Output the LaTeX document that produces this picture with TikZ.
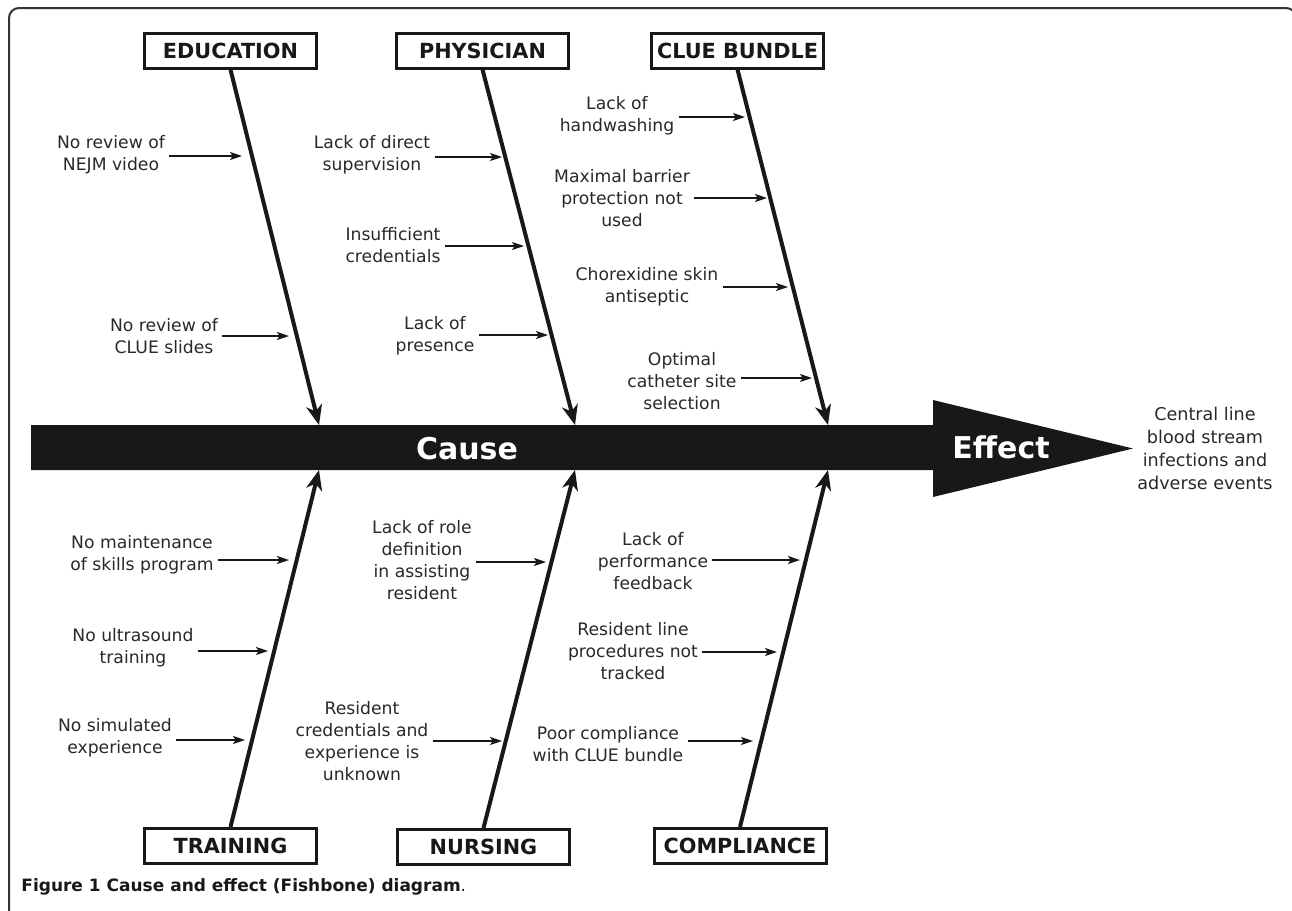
\documentclass[tikz,border=0pt]{standalone}
\usepackage{fontspec}
\setmainfont{DejaVu Sans}
\usetikzlibrary{arrows.meta}

\definecolor{ink}{RGB}{24,24,26}
\definecolor{txt}{RGB}{40,40,40}

\tikzset{
  catbox/.style={draw=ink, line width=1.5pt, minimum width=86pt, minimum height=17.5pt,
    inner sep=0pt, text=ink, font=\fontsize{10.4}{12}\selectfont\bfseries},
  bone/.style={draw=ink, line width=2pt, -{Stealth[length=10pt,width=8pt,inset=3pt]}},
  reason/.style={align=center, inner sep=2pt, text=txt, font=\fontsize{8.6}{11}\selectfont},
  twig/.style={draw=ink, line width=0.75pt, -{Stealth[length=6pt,width=4pt,inset=1.3pt]}},
  bigword/.style={text=white, font=\fontsize{15}{18}\selectfont\bfseries}
}

\begin{document}
\begin{tikzpicture}[x=0.5pt, y=-0.5pt]
\useasboundingbox (0,0) rectangle (1292,911);

% frame
\draw[line width=1pt, draw=black!80, rounded corners=5pt] (9,920) -- (9,8) -- (1296,8) -- (1296,40);

% spine
\fill[ink] (31,425) -- (933,425) -- (933,400) -- (1133,448.5) -- (933,497) -- (933,470) -- (31,470) -- cycle;
\node[bigword] (cause) at (467,449) {Cause};
\node[bigword] (effect) at (1001,447) {Effect};
\node[reason, font=\fontsize{8.8}{11.5}\selectfont] (outcome) at (1205,448)
  {Central line\\blood stream\\infections and\\adverse events};

% categories
\node[catbox] (edu) at (230.5,50.5) {EDUCATION};
\node[catbox] (phys) at (482.5,50.5) {PHYSICIAN};
\node[catbox] (clue) at (737.5,50.5) {CLUE BUNDLE};
\node[catbox] (train) at (230.5,846) {TRAINING};
\node[catbox] (nurse) at (483.5,847) {NURSING};
\node[catbox] (comp) at (740,846) {COMPLIANCE};

\coordinate (eduhead) at (319,425);
\coordinate (physhead) at (575,425);
\coordinate (cluehead) at (828,425);
\coordinate (trainhead) at (319,470);
\coordinate (nursehead) at (575,470);
\coordinate (comphead) at (828,470);

\draw[bone] (edu.south) -- (eduhead);
\draw[bone] (phys.south) -- (physhead);
\draw[bone] (clue.south) -- (cluehead);
\draw[bone] (train.north) -- (trainhead);
\draw[bone] (nurse.north) -- (nursehead);
\draw[bone] (comp.north) -- (comphead);

% education
\node[reason] (edu1) at (111,155) {No review of\\NEJM video};
\node[reason] (edu2) at (164,336) {No review of\\CLUE slides};
\coordinate (edu1end) at (242,156);
\coordinate (edu2end) at (289,336);
\draw[twig] (edu1.east |- edu1end) -- (edu1end);
\draw[twig] (edu2.east |- edu2end) -- (edu2end);

% physician
\node[reason] (phys1) at (372,155) {Lack of direct\\supervision};
\node[reason] (phys2) at (393,245) {Insufficient\\credentials};
\node[reason] (phys3) at (435,336) {Lack of\\presence};
\coordinate (phys1end) at (502,157);
\coordinate (phys2end) at (524,246);
\coordinate (phys3end) at (548,335);
\draw[twig] (phys1.east |- phys1end) -- (phys1end);
\draw[twig] (phys2.east |- phys2end) -- (phys2end);
\draw[twig] (phys3.east |- phys3end) -- (phys3end);

% clue bundle
\node[reason] (clue1) at (617,116) {Lack of\\handwashing};
\node[reason] (clue2) at (622,198) {Maximal barrier\\protection not\\used};
\node[reason] (clue3) at (647,287) {Chorexidine skin\\antiseptic};
\node[reason] (clue4) at (682,381) {Optimal\\catheter site\\selection};
\coordinate (clue1end) at (745,117);
\coordinate (clue2end) at (767,198);
\coordinate (clue3end) at (788,287);
\coordinate (clue4end) at (812,378);
\draw[twig] (clue1.east |- clue1end) -- (clue1end);
\draw[twig] (clue2.east |- clue2end) -- (clue2end);
\draw[twig] (clue3.east |- clue3end) -- (clue3end);
\draw[twig] (clue4.east |- clue4end) -- (clue4end);

% training
\node[reason] (train1) at (142,555) {No maintenance\\of skills program};
\node[reason] (train2) at (133,648) {No ultrasound\\training};
\node[reason] (train3) at (115,738) {No simulated\\experience};
\coordinate (train1end) at (289,560);
\coordinate (train2end) at (268,651);
\coordinate (train3end) at (245,740);
\draw[twig] (train1.east |- train1end) -- (train1end);
\draw[twig] (train2.east |- train2end) -- (train2end);
\draw[twig] (train3.east |- train3end) -- (train3end);

% nursing
\node[reason] (nurse1) at (422,560) {Lack of role\\definition\\in assisting\\resident};
\node[reason] (nurse2) at (362,741) {Resident\\credentials and\\experience is\\unknown};
\coordinate (nurse1end) at (546,562);
\coordinate (nurse2end) at (502,741);
\draw[twig] (nurse1.east |- nurse1end) -- (nurse1end);
\draw[twig] (nurse2.east |- nurse2end) -- (nurse2end);

% compliance
\node[reason] (comp1) at (653,561) {Lack of\\performance\\feedback};
\node[reason] (comp2) at (633,651) {Resident line\\procedures not\\tracked};
\node[reason] (comp3) at (608,744) {Poor compliance\\with CLUE bundle};
\coordinate (comp1end) at (800,560);
\coordinate (comp2end) at (777,652);
\coordinate (comp3end) at (753,741);
\draw[twig] (comp1.east |- comp1end) -- (comp1end);
\draw[twig] (comp2.east |- comp2end) -- (comp2end);
\draw[twig] (comp3.east |- comp3end) -- (comp3end);

% caption
\node[anchor=west, inner sep=0pt, text=ink, font=\fontsize{8.5}{10}\selectfont] (caption) at (21,887)
  {\textbf{Figure 1 Cause and effect (Fishbone) diagram}.};
\end{tikzpicture}
\end{document}
